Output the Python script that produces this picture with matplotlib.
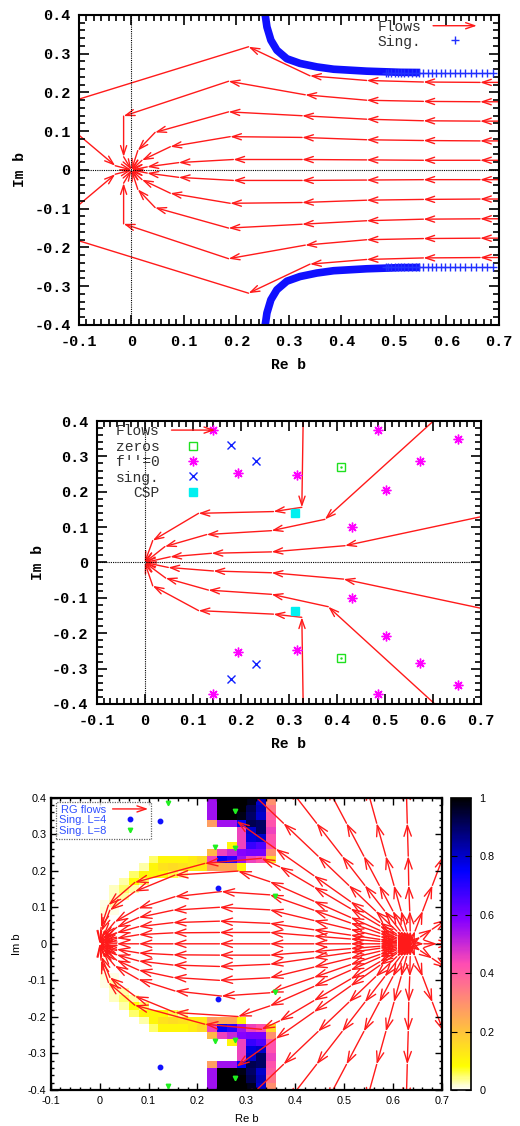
import numpy as np
import matplotlib.pyplot as plt
from matplotlib.patches import FancyArrowPatch
from matplotlib.legend_handler import HandlerPatch
from matplotlib.lines import Line2D
from matplotlib.ticker import MultipleLocator, AutoMinorLocator, FuncFormatter

plt.rcParams['axes.unicode_minus'] = False

MONO = 'Liberation Mono'
SANS = 'Liberation Sans'
RED = '#ff1a1a'
ARROW = '->,head_length=0.65,head_width=0.22'

# ---------------- panel 1 : flows (upper half, mirrored for lower half) ----------------
p1_flow_x = [
    [0.75, 0.664, 0.556, 0.448, 0.34, 0.223, -0.2],
    [0.75, 0.664, 0.556, 0.448, 0.331, 0.185, -0.015, -0.015, 0.0],
    [0.75, 0.664, 0.556, 0.448, 0.325, 0.185, 0.045, 0.012, 0.0],
    [0.75, 0.664, 0.556, 0.448, 0.325, 0.188, 0.074, 0.02, 0.0],
    [0.75, 0.664, 0.556, 0.448, 0.325, 0.194, 0.09, 0.03, 0.0],
    [-0.15, -0.031, 0.0],
]
p1_flow_y = [
    [0.226, 0.226, 0.227, 0.231, 0.243, 0.318, 0.141],
    [0.176, 0.176, 0.177, 0.18, 0.194, 0.229, 0.139, 0.034, 0.0],
    [0.126, 0.126, 0.127, 0.131, 0.14, 0.15, 0.097, 0.05, 0.0],
    [0.075, 0.075, 0.076, 0.078, 0.084, 0.086, 0.06, 0.025, 0.0],
    [0.025, 0.025, 0.025, 0.026, 0.027, 0.027, 0.019, 0.008, 0.0],
    [0.147, 0.011, 0.0],
]
# singularity curve (upper branch): dense band + sparse crosses
sing_band_x = [0.2535, 0.2547, 0.258, 0.2655, 0.277, 0.296, 0.321, 0.353, 0.385, 0.448, 0.512, 0.55]
sing_band_y = [0.42, 0.40, 0.369, 0.335, 0.309, 0.287, 0.275, 0.266, 0.26, 0.255, 0.252, 0.2515]
sing_plus_x = [0.484, 0.489, 0.495, 0.501, 0.507, 0.513, 0.520, 0.527, 0.534, 0.541, 0.548,
               0.556, 0.564, 0.572, 0.580, 0.589, 0.598, 0.607, 0.616, 0.626, 0.636, 0.646,
               0.656, 0.667, 0.678, 0.689]
sing_plus_level = 0.251

# ---------------- panel 2 ----------------
p2_flow_x = [
    [0.33, 0.327, 0.268, 0.112, 0.0166, 0.0],
    [0.622, 0.375, 0.264, 0.129, 0.042, 0.0],
    [0.74, 0.417, 0.264, 0.139, 0.053, 0.0],
    [0.74, 0.414, 0.264, 0.143, 0.049, 0.0],
    [0.628, 0.382, 0.264, 0.1325, 0.0436, 0.0],
    [0.33, 0.327, 0.268, 0.112, 0.0166, 0.0],
]
p2_flow_y = [
    [0.42, 0.156, 0.144, 0.139, 0.062, 0.0],
    [0.426, 0.122, 0.09, 0.079, 0.045, 0.0],
    [0.141, 0.0475, 0.03, 0.026, 0.016, 0.0],
    [-0.141, -0.047, -0.029, -0.024, -0.014, 0.0],
    [-0.43, -0.125, -0.09, -0.078, -0.044, 0.0],
    [-0.42, -0.155, -0.146, -0.136, -0.066, 0.0],
]
zeros_x = [0.408, 0.408]
zeros_y = [0.271, -0.269]
fpp_x = [0.143, 0.195, 0.316, 0.486, 0.431, 0.502, 0.573, 0.653,
         0.143, 0.195, 0.316, 0.486, 0.431, 0.502, 0.573, 0.653]
fpp_y = [0.375, 0.252, 0.247, 0.375, 0.101, 0.205, 0.287, 0.348,
         -0.372, -0.252, -0.246, -0.372, -0.101, -0.207, -0.285, -0.346]
sing2_x = [0.179, 0.231, 0.179, 0.231]
sing2_y = [0.331, 0.286, -0.329, -0.286]
csp_x = [0.312, 0.312]
csp_y = [0.141, -0.138]

# ---------------- panel 3 ----------------
ray_y = [0, 0.035, 0.09, 0.16, 0.24, 0.33, 0.43]
lens_x = [0.635, 0.607, 0.573, 0.513, 0.438, 0.348, 0.245, 0.15, 0.08, 0.035, 0.008, 0.0]
p3_axis_x = [[0.635, 0.663, 0.69, 0.72], lens_x]
p3_flow_x = [
    [0.635, 0.656, 0.68, 0.71],
    [0.635, 0.6449, 0.6605, 0.6803, 0.7029, 0.7284],
    [0.635, 0.635, 0.634, 0.632, 0.631, 0.629, 0.627],
    [0.635, 0.6277, 0.6163, 0.6018, 0.5852, 0.5665, 0.5458],
    [0.635, 0.6212, 0.5995, 0.5718, 0.5402, 0.5047, 0.4652],
    [0.635, 0.6147, 0.5828, 0.5422, 0.4958, 0.4436, 0.3856],
    [0.635, 0.6075, 0.5643, 0.5094, 0.4466, 0.3759, 0.2975],
    [0.635, 0.607, 0.573, 0.513, 0.438, 0.36, 0.28],
    [0.635, 0.607, 0.573, 0.513, 0.438, 0.368, 0.331, 0.215, 0.072, 0.018, 0.003, 0.0],
    [0.635, 0.607, 0.573, 0.513, 0.438, 0.348, 0.283, 0.154, 0.072, 0.021, 0.004, 0.0],
    [0.635, 0.607, 0.573, 0.513, 0.438, 0.348, 0.249, 0.154, 0.079, 0.031, 0.007, 0.0],
    lens_x, lens_x, lens_x,
]
p3_flow_y = [
    [0, 0.019, 0.04, 0.067],
    [0, 0.035, 0.09, 0.16, 0.24, 0.33],
    ray_y, ray_y, ray_y, ray_y, ray_y,
    [0, 0.0265, 0.0587, 0.1155, 0.1865, 0.26, 0.336],
    [0, 0.0221, 0.049, 0.0964, 0.1557, 0.211, 0.234, 0.22, 0.168, 0.106, 0.045, 0.0],
    [0, 0.0166, 0.0367, 0.0723, 0.1167, 0.17, 0.199, 0.188, 0.143, 0.092, 0.035, 0.0],
    [0, 0.0131, 0.029, 0.057, 0.092, 0.134, 0.143, 0.129, 0.097, 0.06, 0.022, 0.0],
    [0, 0.0091, 0.0201, 0.0395, 0.0638, 0.093, 0.1, 0.092, 0.072, 0.045, 0.014, 0.0],
    [0, 0.0055, 0.0121, 0.0238, 0.0384, 0.056, 0.062, 0.058, 0.047, 0.03, 0.009, 0.0],
    [0, 0.003, 0.0067, 0.0132, 0.0213, 0.031, 0.031, 0.03, 0.025, 0.015, 0.005, 0.0],
]
singL4_x = [0.124, 0.242, 0.242, 0.124]
singL4_y = [0.337, 0.152, -0.152, -0.337]
singL8_x = [0.140, 0.277, 0.236, 0.277, 0.358, 0.140, 0.277, 0.236, 0.277, 0.358]
singL8_y = [0.386, 0.364, 0.264, 0.261, 0.132, -0.388, -0.366, -0.266, -0.263, -0.133]

# heat map, upper half rows from y=0.00-0.02 upward, columns x = 0.00..0.36 step 0.02
heat_upper = [
    [.008, 0, 0, 0, 0, 0, 0, 0, 0, 0, 0, 0, 0, 0, 0, 0, 0, 0],
    [.008, 0, 0, 0, 0, 0, 0, 0, 0, 0, 0, 0, 0, 0, 0, 0, 0, 0],
    [.008, 0, 0, 0, 0, 0, 0, 0, 0, 0, 0, 0, 0, 0, 0, 0, 0, 0],
    [.01, 0, 0, 0, 0, 0, 0, 0, 0, 0, 0, 0, 0, 0, 0, 0, 0, 0],
    [.015, .01, 0, 0, 0, 0, 0, 0, 0, 0, 0, 0, 0, 0, 0, 0, 0, 0],
    [.01, .03, 0, 0, 0, 0, 0, 0, 0, 0, 0, 0, 0, 0, 0, 0, 0, 0],
    [0, .02, .03, 0, 0, 0, 0, 0, 0, 0, 0, 0, 0, 0, 0, 0, 0, 0],
    [0, .02, .05, .03, 0, 0, 0, 0, 0, 0, 0, 0, 0, 0, 0, 0, 0, 0],
    [0, 0, .03, .08, .05, 0, 0, 0, 0, 0, 0, 0, 0, 0, 0, 0, 0, 0],
    [0, 0, 0, .05, .1, .1, .09, .06, .03, 0, 0, 0, 0, 0, 0, 0, 0, 0],
    [0, 0, 0, 0, .03, .1, .14, .15, .14, .12, .12, .27, .25, .25, .1, 0, 0, 0],
    [0, 0, 0, 0, 0, .05, .1, .1, .1, .12, .15, .45, .75, .7, .55, .45, .42, .15],
    [0, 0, 0, 0, 0, 0, 0, 0, 0, 0, 0, .22, .45, .5, .58, .6, .6, .3],
    [0, 0, 0, 0, 0, 0, 0, 0, 0, 0, 0, 0, 0, .1, .45, .68, .65, .42],
    [0, 0, 0, 0, 0, 0, 0, 0, 0, 0, 0, 0, 0, 0, .45, .78, .8, .42],
    [0, 0, 0, 0, 0, 0, 0, 0, 0, 0, 0, 0, 0, 0, .45, .8, .9, .45],
    [0, 0, 0, 0, 0, 0, 0, 0, 0, 0, 0, .27, .55, .55, .75, .92, .9, .42],
    [0, 0, 0, 0, 0, 0, 0, 0, 0, 0, 0, .55, 1, 1, .98, .9, .8, .4],
    [0, 0, 0, 0, 0, 0, 0, 0, 0, 0, 0, .55, 1, 1, 1, .92, .82, .35],
    [0, 0, 0, 0, 0, 0, 0, 0, 0, 0, 0, .55, 1, 1, 1, .97, .8, .3],
]


def draw_flow(ax, xs, ys, lw=1.0, scale=10):
    for x0, y0, x1, y1 in zip(xs[:-1], ys[:-1], xs[1:], ys[1:]):
        ax.add_patch(FancyArrowPatch((x0, y0), (x1, y1), arrowstyle=ARROW,
                                     mutation_scale=scale, color=RED, lw=lw,
                                     shrinkA=0, shrinkB=0))


class HandlerArrow(HandlerPatch):
    def create_artists(self, legend, orig_handle, xdescent, ydescent, width, height,
                       fontsize, trans):
        y = height / 2 - ydescent
        a = FancyArrowPatch((-xdescent, y), (width - xdescent, y), arrowstyle=ARROW,
                            mutation_scale=orig_handle.get_mutation_scale(), color=RED,
                            lw=orig_handle.get_linewidth(), shrinkA=0, shrinkB=0)
        a.set_transform(trans)
        return [a]


fmt = FuncFormatter(lambda v, _: '%g' % round(v, 2))


def style_axes(ax, family, size, weight, maj, mnr, tw, spw, xminor, yminor):
    ax.set_xlim(-0.1, 0.7)
    ax.set_ylim(-0.4, 0.4)
    ax.xaxis.set_major_locator(MultipleLocator(0.1))
    ax.yaxis.set_major_locator(MultipleLocator(0.1))
    ax.xaxis.set_minor_locator(AutoMinorLocator(xminor))
    ax.yaxis.set_minor_locator(AutoMinorLocator(yminor))
    ax.xaxis.set_major_formatter(fmt)
    ax.yaxis.set_major_formatter(fmt)
    ax.tick_params(which='both', direction='in', top=True, right=True, width=tw)
    ax.tick_params(which='major', length=maj)
    ax.tick_params(which='minor', length=mnr)
    for lab in ax.get_xticklabels() + ax.get_yticklabels():
        lab.set_fontfamily(family)
        lab.set_fontsize(size)
        lab.set_fontweight(weight)
    for s in ax.spines.values():
        s.set_linewidth(spw)


fig = plt.figure(figsize=(5.2, 11.26), dpi=100)

# ---------------- panel 1 ----------------
ax1 = fig.add_axes([0.1519, 0.7114, 0.8077, 0.2753])
ax1.axhline(0, color='black', lw=0.8, ls=(0, (1, 1)))
ax1.axvline(0, color='black', lw=0.8, ls=(0, (1, 1)))
for xs, ys in zip(p1_flow_x, p1_flow_y):
    draw_flow(ax1, xs, ys)
    draw_flow(ax1, xs, [-v for v in ys])
for sgn in (1, -1):
    ax1.plot(sing_band_x, [sgn * v for v in sing_band_y], color='#1010ff', lw=5.5,
             solid_capstyle='butt')
    ax1.plot(sing_plus_x, [sgn * sing_plus_level] * len(sing_plus_x), ls='none',
             marker='+', ms=6, mew=1.0, color='#2030ff')
style_axes(ax1, MONO, 11, 'bold', 7.5, 4, 1.2, 1.5, 7, 5)
ax1.tick_params(axis='x', pad=7)
ax1.tick_params(axis='y', pad=6)
ax1.set_xlabel('Re b', fontfamily=MONO, fontweight='bold', fontsize=10.5, labelpad=7)
ax1.set_ylabel('Im b', fontfamily=MONO, fontweight='bold', fontsize=10.5, labelpad=5)
h_flow1 = FancyArrowPatch((0, 0), (1, 0), mutation_scale=10, lw=1.0, label='Flows')
h_sing1 = Line2D([], [], ls='none', marker='+', ms=6, mew=1.0, color='#2030ff', label='Sing.')
leg1 = ax1.legend(handles=[h_flow1, h_sing1], handler_map={FancyArrowPatch: HandlerArrow()},
                  loc='upper right', bbox_to_anchor=(0.975, 1.022), frameon=False,
                  markerfirst=False, handlelength=3.0, labelspacing=0.05, borderpad=0.3,
                  prop={'family': MONO, 'size': 10.5})
for t in leg1.get_texts():
    t.set_color('#303030')

# ---------------- panel 2 ----------------
ax2 = fig.add_axes([0.186, 0.3748, 0.739, 0.2513])
ax2.axhline(0, color='black', lw=0.8, ls=(0, (1, 1)))
ax2.axvline(0, color='black', lw=0.8, ls=(0, (1, 1)))
for xs, ys in zip(p2_flow_x, p2_flow_y):
    draw_flow(ax2, xs, ys)
ax2.plot(zeros_x, zeros_y, ls='none', marker='s', ms=6, mfc='none', mec='#20e020', mew=1.0)
ax2.plot(zeros_x, zeros_y, ls='none', marker='.', ms=1.5, color='#20e020')
ax2.plot(fpp_x, fpp_y, ls='none', marker=(8, 2, 0), ms=7, mew=1.0, color='#ff00ff')
ax2.plot(sing2_x, sing2_y, ls='none', marker='x', ms=6, mew=1.0, color='#1020ff')
ax2.plot(csp_x, csp_y, ls='none', marker='s', ms=6, color='#00f0f0')
style_axes(ax2, MONO, 11, 'bold', 7.5, 4, 1.2, 1.5, 7, 5)
ax2.tick_params(axis='x', pad=7)
ax2.tick_params(axis='y', pad=6)
ax2.set_xlabel('Re b', fontfamily=MONO, fontweight='bold', fontsize=10.5, labelpad=7)
ax2.set_ylabel('Im b', fontfamily=MONO, fontweight='bold', fontsize=10.5, labelpad=5)
h_flow2 = FancyArrowPatch((0, 0), (1, 0), mutation_scale=10, lw=1.0, label='Flows')
h_zero = Line2D([], [], ls='none', marker='s', ms=6, mfc='none', mec='#20e020', mew=1.0,
                label='zeros')
h_fpp = Line2D([], [], ls='none', marker=(8, 2, 0), ms=7, mew=1.0, color='#ff00ff',
               label="f''=0")
h_sing2 = Line2D([], [], ls='none', marker='x', ms=6, mew=1.0, color='#1020ff', label='sing.')
h_csp = Line2D([], [], ls='none', marker='s', ms=6, color='#00f0f0', label='CSP')
leg2 = ax2.legend(handles=[h_flow2, h_zero, h_fpp, h_sing2, h_csp],
                  handler_map={FancyArrowPatch: HandlerArrow()},
                  loc='upper left', bbox_to_anchor=(0.02, 1.03), frameon=False,
                  markerfirst=False, handlelength=3.0, labelspacing=0.1, borderpad=0.3,
                  prop={'family': MONO, 'size': 10.5})
for t in leg2.get_texts():
    t.set_color('#303030')

# ---------------- panel 3 ----------------
ax3 = fig.add_axes([0.0975, 0.032, 0.7525, 0.2596])
x_edges = np.round(np.arange(0, 0.3601, 0.02), 2)
y_edges = np.round(np.arange(-0.4, 0.4001, 0.02), 2)
heat = np.vstack([np.array(heat_upper)[::-1], np.array(heat_upper)])
mesh = ax3.pcolormesh(x_edges, y_edges, heat, cmap='gnuplot2_r', vmin=0, vmax=1,
                      shading='flat', zorder=0)
for xs in p3_axis_x:
    draw_flow(ax3, xs, [0.0] * len(xs), lw=1.0, scale=12)
for xs, ys in zip(p3_flow_x, p3_flow_y):
    draw_flow(ax3, xs, ys, lw=1.0, scale=12)
    draw_flow(ax3, xs, [-v for v in ys], lw=1.0, scale=12)
ax3.plot(singL4_x, singL4_y, ls='none', marker='o', ms=3.2, color='#1010ff', zorder=5)
ax3.plot(singL8_x, singL8_y, ls='none', marker='v', ms=3.2, color='#20f020', zorder=5)
style_axes(ax3, SANS, 7.8, 'normal', 5, 2.5, 1.0, 1.6, 5, 5)
ax3.tick_params(axis='x', pad=4)
ax3.tick_params(axis='y', pad=3)
ax3.set_xlabel('Re b', fontfamily=SANS, fontsize=8, labelpad=6)
ax3.set_ylabel('Im b', fontfamily=SANS, fontsize=8, labelpad=4)
h_flow3 = FancyArrowPatch((0, 0), (1, 0), mutation_scale=10, lw=1.0, label='RG flows')
h_l4 = Line2D([], [], ls='none', marker='o', ms=3.2, color='#1010ff', label='Sing. L=4')
h_l8 = Line2D([], [], ls='none', marker='v', ms=3.2, color='#20f020', label='Sing. L=8')
leg3 = ax3.legend(handles=[h_flow3, h_l4, h_l8], handler_map={FancyArrowPatch: HandlerArrow()},
                  loc='upper left', bbox_to_anchor=(0.013, 0.985), frameon=True,
                  fancybox=False, markerfirst=False, handlelength=3.2, handletextpad=0.6,
                  labelspacing=0.05, borderpad=0.25, borderaxespad=0.0,
                  prop={'family': SANS, 'size': 8})
leg3.get_frame().set_edgecolor('#404040')
leg3.get_frame().set_linestyle((0, (1, 1)))
leg3.get_frame().set_linewidth(0.9)
for t in leg3.get_texts():
    t.set_color('#3050ff')

cax = fig.add_axes([0.8673, 0.032, 0.0385, 0.2596])
cb = fig.colorbar(mesh, cax=cax, ticks=[0, 0.2, 0.4, 0.6, 0.8, 1])
cb.ax.set_yticklabels(['0', '0.2', '0.4', '0.6', '0.8', '1'], fontfamily=SANS, fontsize=7.8)
cb.ax.tick_params(direction='in', left=True, right=True, length=4, width=0.8, pad=6)
cb.outline.set_linewidth(1.2)

fig.savefig('out.png', dpi=100, facecolor='white')
